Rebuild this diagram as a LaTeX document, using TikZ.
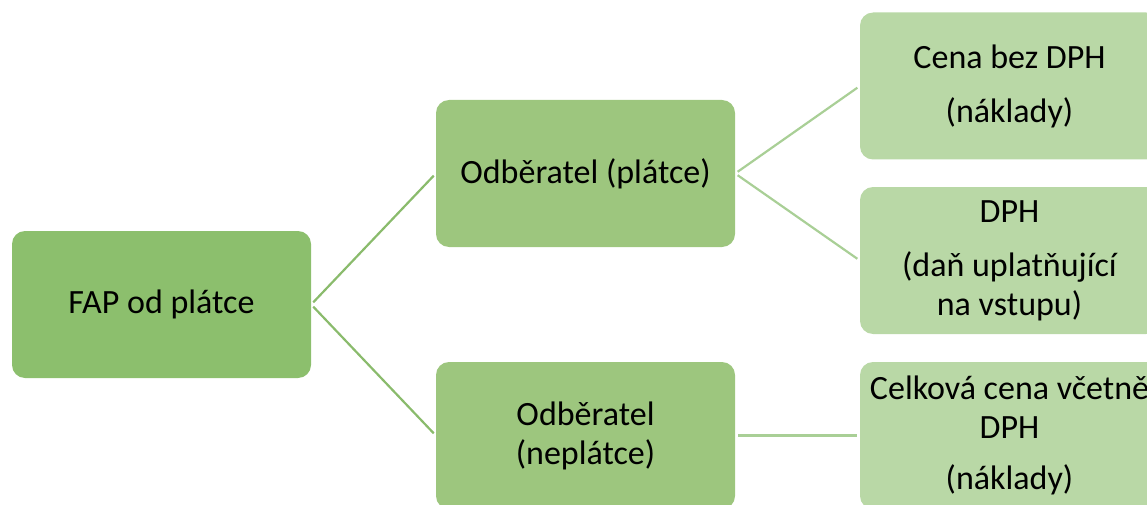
\documentclass[tikz,border=0pt]{standalone}
\usepackage{fontspec}
\setmainfont{Carlito}
\usetikzlibrary{positioning}
\definecolor{rootgreen}{HTML}{8CBF6D}
\definecolor{midgreen}{HTML}{9DC67E}
\definecolor{leafgreen}{HTML}{B9D8A6}
\definecolor{linedark}{HTML}{8ABB6C}
\definecolor{linelight}{HTML}{A9CF96}
\tikzset{
	box/.style={rectangle, rounded corners=13pt, minimum width=299pt, minimum height=147pt, inner sep=2pt, align=center, font=\fontsize{34}{39}\selectfont},
	rootbox/.style={box, fill=rootgreen},
	midbox/.style={box, fill=midgreen},
	leafbox/.style={box, fill=leafgreen},
	link/.style={line width=2.2pt, shorten <=3pt, shorten >=3pt}
}
\begin{document}
\begin{tikzpicture}[x=1pt, y=-1pt]
	\useasboundingbox (0,0) rectangle (1147,505);
	\clip (0,0) rectangle (1147,505);
	\node (fap) at (161.5,304.5)[rootbox]{FAP od plátce};
	\node (platce) at (585.5,173.5)[midbox]{Odběratel (plátce)};
	\node (neplatce) at (585.5,435.5)[midbox]{Odběratel\\(neplátce)};
	\node (cena) at (1009.5,86)[leafbox]{Cena bez DPH\\[15pt](náklady)};
	\node (dph) at (1009.5,260.5)[leafbox]{DPH\\[15pt](daň uplatňující\\na vstupu)};
	\node (celkem) at (1009.5,435.5)[leafbox]{Celková cena včetně\\DPH\\[12pt](náklady)};
	\draw[link, linedark] (fap.east) -- (platce.west);
	\draw[link, linedark] (fap.east) -- (neplatce.west);
	\draw[link, linelight] (platce.east) -- (cena.west);
	\draw[link, linelight] (platce.east) -- (dph.west);
	\draw[link, linelight] (neplatce.east) -- (celkem.west);
\end{tikzpicture}
\end{document}
